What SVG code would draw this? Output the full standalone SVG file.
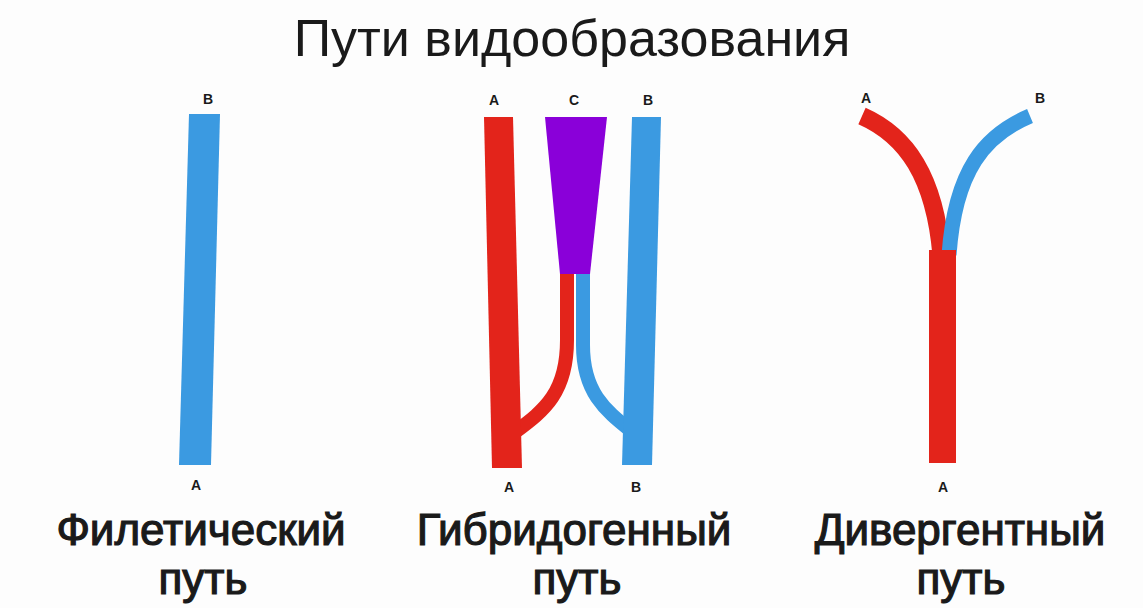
<svg xmlns="http://www.w3.org/2000/svg" width="1143" height="608" viewBox="0 0 1143 608">
<style>
.t{font-family:"Liberation Sans",Arial,sans-serif;fill:#1a1a1a;text-anchor:middle}
.title{font-size:52px}
.lbl{font-size:44px;stroke:#1a1a1a;stroke-width:1.2px}
.sm{font-size:14px;font-weight:bold}
.red{fill:#e3241b}
.blue{fill:#3b9ae1}
.rs{stroke:#e3241b;fill:none}
.bs{stroke:#3b9ae1;fill:none}
</style>
<rect width="1143" height="608" fill="#fdfdfd"/>
<text class="t title" x="572" y="56">Пути видообразования</text>

<g id="filetic">
<polygon class="blue" points="189,114 220,114 211,465 179,465"/>
<text class="t sm" x="208" y="104">B</text>
<text class="t sm" x="196" y="490">A</text>
<text class="t lbl" x="201" y="545">Филетический</text>
<text class="t lbl" x="203" y="594">путь</text>
</g>

<g id="hybrid">
<g id="connectors">
<path class="rs" stroke-width="14" d="M567,270 L567,340 C567,392 545,410 515,432"/>
<path class="bs" stroke-width="14" d="M583,270 L583,345 C583,392 605,410 630,430"/>
</g>
<polygon class="red" points="484,117 513,117 522,468 492,468"/>
<polygon class="blue" points="632,117 661,117 652,465 622,465"/>
<polygon fill="#8a00d9" points="545,117 607,117 590,274 560,274"/>
<text class="t sm" x="494" y="105">A</text>
<text class="t sm" x="574" y="105">C</text>
<text class="t sm" x="648" y="105">B</text>
<text class="t sm" x="509" y="492">A</text>
<text class="t sm" x="636" y="492">B</text>
<text class="t lbl" x="574" y="545">Гибридогенный</text>
<text class="t lbl" x="577" y="594">путь</text>
</g>

<g id="divergent">
<path class="rs" stroke-width="18" d="M862,116 C905,135 936,175 942,262"/>
<path class="bs" stroke-width="15" d="M1030,116 C985,135 955,170 949,255"/>
<rect class="red" x="929" y="250" width="27" height="213"/>
<text class="t sm" x="866" y="103">A</text>
<text class="t sm" x="1040" y="103">B</text>
<text class="t sm" x="943" y="492">A</text>
<text class="t lbl" x="960" y="545">Дивергентный</text>
<text class="t lbl" x="961" y="594">путь</text>
</g>
</svg>
